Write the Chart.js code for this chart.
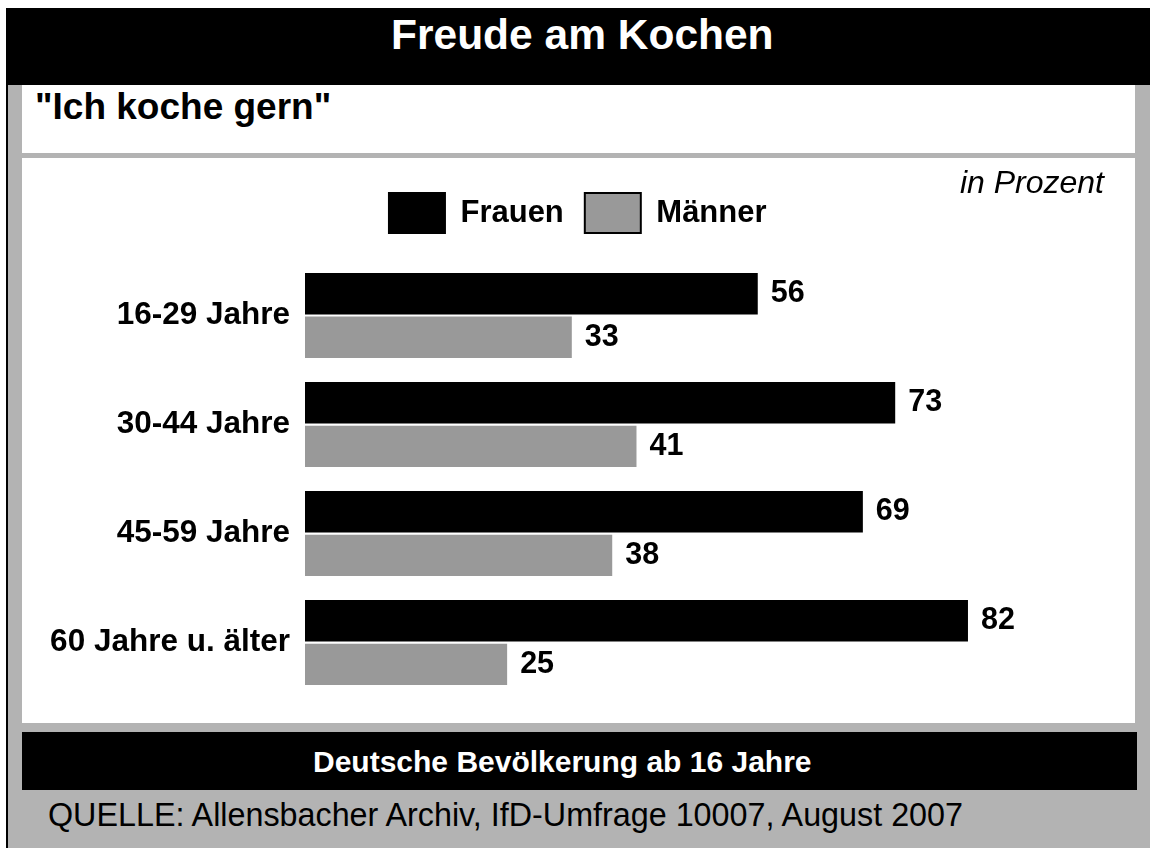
<!DOCTYPE html>
<html>
<head>
<meta charset="utf-8">
<script src="https://cdn.jsdelivr.net/npm/chart.js@4/dist/chart.umd.min.js"></script>
<style>
  body { margin: 0; width: 1150px; height: 848px; background: #fff; position: relative; overflow: hidden;
         font-family: 'Liberation Sans', Arial, sans-serif; }
  .frame { position: absolute; left: 6px; top: 8px; width: 1144px; height: 840px; background: #b3b3b3;
           border-left: 2px solid #000; box-sizing: border-box; }
  .titlebar { position: absolute; left: 6px; top: 8px; width: 1144px; height: 77px; background: #000; }
  .subbox { position: absolute; left: 22px; top: 85px; width: 1113px; height: 68px; background: #fff; }
  .chartbox { position: absolute; left: 22px; top: 158px; width: 1113px; height: 565px; background: #fff; }
  .footbar { position: absolute; left: 22px; top: 732px; width: 1115px; height: 58px; background: #000; }
  .txt { position: absolute; line-height: 1; white-space: nowrap; }
</style>
</head>
<body>
<div class="frame"></div>
<div class="titlebar"></div>
<div class="subbox"></div>
<div class="chartbox"><canvas id="chart"></canvas></div>
<div class="footbar"></div>

<div class="txt" style="left:391px; top:14px; font-size:42.5px; font-weight:bold; color:#fff;">Freude am Kochen</div>
<div class="txt" style="left:35px; top:88px; font-size:37px; font-weight:bold; color:#000;">"Ich koche gern"</div>
<div class="txt" style="right:46px; top:166px; font-size:32px; font-style:italic; color:#000;">in Prozent</div>
<div class="txt" style="left:313px; top:747px; font-size:30px; font-weight:bold; color:#fff;">Deutsche Bevölkerung ab 16 Jahre</div>
<div class="txt" style="left:48px; top:799px; font-size:32.3px; color:#000;">QUELLE: Allensbacher Archiv, IfD-Umfrage 10007, August 2007</div>

<script>
// Chart data
const categories = ['16-29 Jahre', '30-44 Jahre', '45-59 Jahre', '60 Jahre u. älter'];
const seriesNames = ['Frauen', 'Männer'];
const frauen = [56, 73, 69, 82];
const maenner = [33, 41, 38, 25];

Chart.defaults.font.family = "'Liberation Sans', Arial, sans-serif";
Chart.defaults.color = '#000';

// Value labels at the end of each bar
const valueLabels = {
    id: 'valueLabels',
    afterDatasetsDraw(chart) {
        const ctx = chart.ctx;
        ctx.save();
        ctx.font = "bold 30.5px 'Liberation Sans', Arial, sans-serif";
        ctx.fillStyle = '#000';
        ctx.textAlign = 'left';
        ctx.textBaseline = 'middle';
        chart.data.datasets.forEach((ds, i) => {
            chart.getDatasetMeta(i).data.forEach((bar, j) => {
                ctx.fillText(String(ds.data[j]), bar.x + 13, bar.y);
            });
        });
        ctx.restore();
    }
};

new Chart(document.getElementById('chart').getContext('2d'), {
    type: 'bar',
    data: {
        labels: categories,
        datasets: [{
            label: seriesNames[0],
            data: frauen,
            backgroundColor: '#000',
            borderWidth: 0,
            categoryPercentage: 0.8,
            barPercentage: 0.95
        }, {
            label: seriesNames[1],
            data: maenner,
            backgroundColor: '#999999',
            borderWidth: 0,
            categoryPercentage: 0.8,
            barPercentage: 0.95
        }]
    },
    options: {
        indexAxis: 'y',
        responsive: true,
        maintainAspectRatio: false,
        animation: false,
        layout: {
            padding: { top: 14, right: 21.5, bottom: 18, left: 20 }
        },
        plugins: {
            legend: {
                position: 'top',
                labels: {
                    boxWidth: 56,
                    boxHeight: 40,
                    padding: 21,
                    font: { size: 31, weight: 'bold' },
                    color: '#000',
                    generateLabels: chart => Chart.defaults.plugins.legend.labels.generateLabels(chart)
                        .map(l => Object.assign(l, { lineWidth: 2, strokeStyle: '#000' }))
                }
            },
            tooltip: { enabled: false }
        },
        scales: {
            x: {
                position: 'top',
                min: 0,
                max: 100,
                ticks: { display: false },
                grid: { display: false },
                border: { display: false },
                afterFit: scale => { scale.height = 18; }
            },
            y: {
                ticks: {
                    font: { size: 31.5, weight: 'bold' },
                    color: '#000',
                    padding: 7
                },
                grid: { display: false },
                border: { display: false },
                afterFit: scale => { scale.width = 263; }
            }
        }
    },
    plugins: [valueLabels]
});
</script>
</body>
</html>
